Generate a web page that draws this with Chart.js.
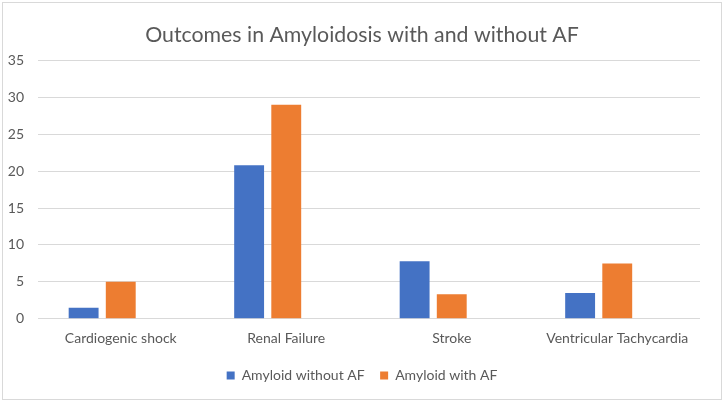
<!DOCTYPE html>
<html>
<head>
<meta charset="utf-8">
<script src="https://cdn.jsdelivr.net/npm/chart.js@4"></script>
<style>
  body { margin: 0; background: #fff; }
  #wrap { position: absolute; left: 2px; top: 2px; width: 718px; height: 396px; border: 1px solid #d9d9d9; }
</style>
</head>
<body>
<div id="wrap"><canvas id="chart"></canvas></div>
<script>
var categories = ["Cardiogenic shock", "Renal Failure", "Stroke", "Ventricular Tachycardia"];
var withoutAF = [1.5, 20.8, 7.8, 3.5];
var withAF = [5.0, 29.0, 3.3, 7.5];
var emptySeries = [null, null, null, null];
var yTicks = [0, 5, 10, 15, 20, 25, 30, 35];

Chart.defaults.font.family = "Lato, 'Open Sans', sans-serif";
Chart.defaults.color = "#595959";

var ctx = document.getElementById("chart").getContext("2d");
new Chart(ctx, {
    type: "bar",
    data: {
        labels: categories,
        datasets: [{
            label: "Amyloid without AF",
            data: withoutAF,
            backgroundColor: "#4472C4"
        }, {
            label: "Amyloid with AF",
            data: withAF,
            backgroundColor: "#ED7D31"
        }, {
            label: "",
            data: emptySeries,
            backgroundColor: "#A5A5A5"
        }]
    },
    options: {
        responsive: true,
        maintainAspectRatio: false,
        animation: false,
        categoryPercentage: 0.673,
        barPercentage: 0.805,
        layout: { padding: { left: 0, right: 0, top: 10, bottom: 6.5 } },
        plugins: {
            title: {
                display: true,
                text: "Outcomes in Amyloidosis with and without AF",
                font: { size: 21.3, weight: "normal" },
                color: "#595959",
                padding: { top: 9, bottom: 13 }
            },
            legend: {
                position: "bottom",
                labels: {
                    boxWidth: 8,
                    boxHeight: 8,
                    padding: 15.5,
                    font: { size: 14 },
                    filter: function(item) { return item.text !== ""; }
                }
            },
            tooltip: { enabled: false }
        },
        scales: {
            x: {
                grid: { display: false },
                border: { display: false },
                afterFit: function(axis) { axis.height += 3.5; },
                ticks: { font: { size: 14 }, padding: 3, maxRotation: 0 }
            },
            y: {
                min: 0,
                max: 35,
                afterBuildTicks: function(axis) {
                    axis.ticks = yTicks.map(function(v) { return { value: v }; });
                },
                afterFit: function(axis) { axis.width = 35; },
                grid: { color: "#d9d9d9", drawTicks: false },
                border: { display: false },
                ticks: { font: { size: 14 }, padding: 14 }
            },
            // blank right margin so the title stays centred on the whole box
            yRight: {
                position: "right",
                min: 0,
                max: 35,
                afterFit: function(axis) { axis.width = 21; },
                grid: { display: false },
                border: { display: false },
                ticks: { display: false }
            }
        }
    }
});
</script>
</body>
</html>
